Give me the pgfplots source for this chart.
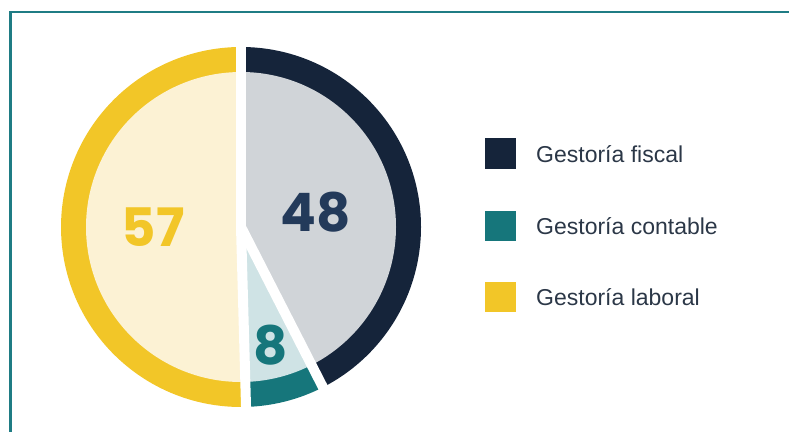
\documentclass[border=0pt]{standalone}
\usepackage{fontspec}
\setmainfont{Liberation Sans}
\newfontfamily\numfont{Poppins}
\usepackage{pgfplots}
\usepackage{pgfplotstable}
\pgfplotsset{compat=1.18}

\definecolor{cNavy}{HTML}{15243A}
\definecolor{cGray}{HTML}{D0D4D8}
\definecolor{cTeal}{HTML}{16767B}
\definecolor{cTealL}{HTML}{CFE3E5}
\definecolor{cYel}{HTML}{F2C628}
\definecolor{cYelL}{HTML}{FCF2D4}
\definecolor{cNum}{HTML}{233A5A}
\definecolor{cFrame}{HTML}{1F7C84}
\definecolor{cText}{HTML}{2B3747}

\pgfplotstableread{
slice value
1 48
2 8
3 57
}\piedata

\begin{document}
\begin{tikzpicture}
\pgfplotstablegetelem{0}{value}\of\piedata \edef\va{\pgfplotsretval}
\pgfplotstablegetelem{1}{value}\of\piedata \edef\vb{\pgfplotsretval}
\pgfplotstablegetelem{2}{value}\of\piedata \edef\vc{\pgfplotsretval}
\pgfmathsetmacro\tot{\va+\vb+\vc}
\pgfmathsetmacro\aA{90}
\pgfmathsetmacro\aB{\aA-360*(\va/\tot)}
\pgfmathsetmacro\aC{\aB-360*(\vb/\tot)}
\pgfmathsetmacro\aD{\aC-360*(\vc/\tot)}
\begin{axis}[at={(0,0)}, anchor=south west, scale only axis,
  width=789bp, height=432bp, xmin=0, xmax=789, ymin=0, ymax=432,
  hide axis, clip=false]
% frame
\draw[cFrame, line width=2.2bp] (axis cs:10.5,-5) -- (axis cs:10.5,420) -- (axis cs:795,420);
% outer slices
\fill[cNavy] (axis cs:241,205) -- ++(\aA:180bp) arc[start angle=\aA, end angle=\aB, radius=180bp] -- cycle;
\fill[cTeal] (axis cs:241,205) -- ++(\aB:180bp) arc[start angle=\aB, end angle=\aC, radius=180bp] -- cycle;
\fill[cYel]  (axis cs:241,205) -- ++(\aC:180bp) arc[start angle=\aC, end angle=\aD, radius=180bp] -- cycle;
% inner slices
\fill[cGray]  (axis cs:241,205) -- ++(\aA:155bp) arc[start angle=\aA, end angle=\aB, radius=155bp] -- cycle;
\fill[cTealL] (axis cs:241,205) -- ++(\aB:155bp) arc[start angle=\aB, end angle=\aC, radius=155bp] -- cycle;
\fill[cYelL]  (axis cs:241,205) -- ++(\aC:155bp) arc[start angle=\aC, end angle=\aD, radius=155bp] -- cycle;
% separators
\draw[white, line width=10bp] (axis cs:241,205) -- ++(\aA:186bp);
\draw[white, line width=10bp] (axis cs:241,205) -- ++(\aB:186bp);
\draw[white, line width=10bp] (axis cs:241,205) -- ++(\aC:186bp);
% values
\node[text=cNum, inner sep=0pt, font=\numfont\bfseries\fontsize{53bp}{53bp}\selectfont] at (axis cs:316,219.5) {48};
\node[text=cYel, inner sep=0pt, font=\numfont\bfseries\fontsize{53bp}{53bp}\selectfont] at (axis cs:153,204.5) {57};
\node[text=cTeal, inner sep=0pt, font=\numfont\bfseries\fontsize{53bp}{53bp}\selectfont] at (axis cs:271,87) {8};
% legend
\fill[cNavy] (axis cs:485,263) rectangle (axis cs:516,294);
\fill[cTeal] (axis cs:485,190.5) rectangle (axis cs:516,221);
\fill[cYel]  (axis cs:485,119.5) rectangle (axis cs:516,150);
\node[anchor=base west, inner sep=0pt, text=cText, font=\fontsize{23bp}{23bp}\selectfont] at (axis cs:536,269.7) {Gestoría fiscal};
\node[anchor=base west, inner sep=0pt, text=cText, font=\fontsize{23bp}{23bp}\selectfont] at (axis cs:536,197) {Gestoría contable};
\node[anchor=base west, inner sep=0pt, text=cText, font=\fontsize{23bp}{23bp}\selectfont] at (axis cs:536,126) {Gestoría laboral};
\end{axis}
\pgfresetboundingbox
\useasboundingbox (0,0) rectangle (789bp,432bp);
\end{tikzpicture}
\end{document}
